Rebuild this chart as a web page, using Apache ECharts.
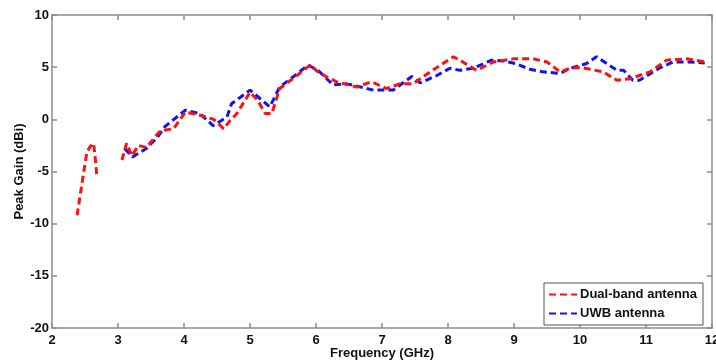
<!DOCTYPE html>
<html>
<head>
<meta charset="utf-8">
<script src="https://cdn.jsdelivr.net/npm/echarts@6/dist/echarts.min.js"></script>
<style>
  html, body { margin: 0; padding: 0; background: #fff; }
  #chart { width: 716px; height: 360px; }
</style>
</head>
<body>
<div id="chart"></div>
<script>
// frequency (GHz), gain (dBi)
const dualBandA = [
  [2.38, -9.2], [2.46, -5.9], [2.53, -3.1], [2.58, -2.6], [2.63, -2.3], [2.66, -4.0], [2.68, -5.5]
]
const dualBandB = [
  [3.06, -3.9], [3.13, -2.3], [3.21, -3.5], [3.31, -2.5], [3.43, -2.7], [3.64, -1.1], [3.84, -0.9],
  [4.02, 0.7], [4.24, 0.4], [4.45, 0.0], [4.6, -0.9], [4.7, -0.1], [4.8, 0.55], [5.0, 2.6],
  [5.12, 1.8], [5.23, 0.55], [5.33, 0.55], [5.45, 2.95], [5.71, 4.2], [5.91, 5.2], [6.06, 4.4],
  [6.31, 3.6], [6.62, 3.1], [6.84, 3.6], [7.07, 2.95], [7.27, 3.4], [7.47, 3.4], [7.73, 4.55],
  [8.08, 6.0], [8.18, 5.67], [8.43, 4.7], [8.69, 5.5], [8.99, 5.8], [9.29, 5.8], [9.5, 5.5],
  [9.7, 4.55], [9.85, 4.9], [10.0, 5.0], [10.35, 4.55], [10.56, 3.75], [10.76, 3.9], [11.06, 4.55],
  [11.31, 5.67], [11.62, 5.8], [11.89, 5.5]
]
const uwb = [
  [3.1, -2.8], [3.22, -3.6], [3.43, -2.8], [3.6, -1.7], [3.71, -0.7], [4.02, 0.87], [4.24, 0.55],
  [4.44, -0.6], [4.65, 0.2], [4.72, 1.5], [4.85, 2.1], [5.0, 2.8], [5.3, 1.2], [5.45, 3.1],
  [5.66, 4.1], [5.88, 5.2], [6.03, 4.7], [6.26, 3.3], [6.47, 3.4], [6.87, 2.8], [7.17, 2.8],
  [7.45, 4.1], [7.58, 3.5], [7.83, 4.2], [8.03, 4.9], [8.18, 4.7], [8.38, 4.9], [8.66, 5.67],
  [8.84, 5.6], [9.02, 5.35], [9.24, 4.8], [9.44, 4.55], [9.7, 4.4], [9.85, 4.9], [10.1, 5.35],
  [10.25, 6.0], [10.56, 4.7], [10.66, 4.7], [10.8, 3.75], [10.9, 3.75], [11.2, 4.9], [11.41, 5.5],
  [11.67, 5.5], [11.89, 5.4]
]
const seriesNames = ['Dual-band antenna', 'UWB antenna']

const chart = echarts.init(document.getElementById('chart'))
const axisGray = '#8c8c8c'
const labelFont = { color: '#111', fontWeight: 'bold', fontSize: 13, fontFamily: 'Liberation Sans, Arial, sans-serif' }

const frameAxis = {
  type: 'value',
  axisLine: { show: true, onZero: false, lineStyle: { color: axisGray, width: 1.5 } },
  axisTick: { show: true, inside: true, length: 5, lineStyle: { color: axisGray, width: 1.5 } },
  axisLabel: { show: false },
  splitLine: { show: false }
}

const dashed = color => ({ color, width: 3, type: [7, 4] })

chart.setOption({
  animation: false,
  grid: { left: 52, right: 4, top: 15, bottom: 32, outerBoundsMode: 'none' },
  legend: {
    left: 544, top: 283,
    orient: 'vertical',
    padding: [5, 6, 5, 4],
    itemGap: 6,
    itemWidth: 28, itemHeight: 12,
    borderColor: '#555', borderWidth: 1,
    backgroundColor: '#fff',
    itemStyle: { opacity: 0 },
    data: seriesNames,
    textStyle: { color: '#111', fontWeight: 'bold', fontSize: 13, fontFamily: 'Liberation Sans, Arial, sans-serif', padding: [0, 0, 0, -2] }
  },
  xAxis: [
    {
      type: 'value', min: 2, max: 12, interval: 1,
      name: 'Frequency (GHz)', nameLocation: 'middle', nameGap: 19, nameMoveOverlap: false,
      nameTextStyle: { ...labelFont },
      axisLine: { onZero: false, lineStyle: { color: axisGray, width: 1.5 } },
      axisTick: { inside: true, length: 5, lineStyle: { color: axisGray, width: 1.5 } },
      axisLabel: { ...labelFont, margin: 6 },
      splitLine: { show: false }
    },
    { ...frameAxis, position: 'top', min: 2, max: 12, interval: 1 }
  ],
  yAxis: [
    {
      type: 'value', min: -20, max: 10, interval: 5,
      name: 'Peak Gain (dBi)', nameLocation: 'middle', nameGap: 26, nameMoveOverlap: false,
      nameTextStyle: { ...labelFont },
      axisLine: { show: true, onZero: false, lineStyle: { color: axisGray, width: 1.5 } },
      axisTick: { show: true, inside: true, length: 5, lineStyle: { color: axisGray, width: 1.5 } },
      axisLabel: { ...labelFont, margin: 3 },
      splitLine: { show: false }
    },
    { ...frameAxis, position: 'right', min: -20, max: 10, interval: 5 }
  ],
  series: [
    {
      name: seriesNames[0], type: 'line', data: dualBandA, symbol: 'none',
      lineStyle: dashed('#ff1010'), itemStyle: { color: '#ff1010' }, z: 3
    },
    {
      name: seriesNames[0], type: 'line', data: dualBandB, symbol: 'none',
      lineStyle: dashed('#ff1010'), itemStyle: { color: '#ff1010' }, z: 3
    },
    {
      name: seriesNames[1], type: 'line', data: uwb, symbol: 'none',
      lineStyle: dashed('#1010ff'), itemStyle: { color: '#1010ff' }, z: 2
    }
  ]
})
</script>
</body>
</html>
